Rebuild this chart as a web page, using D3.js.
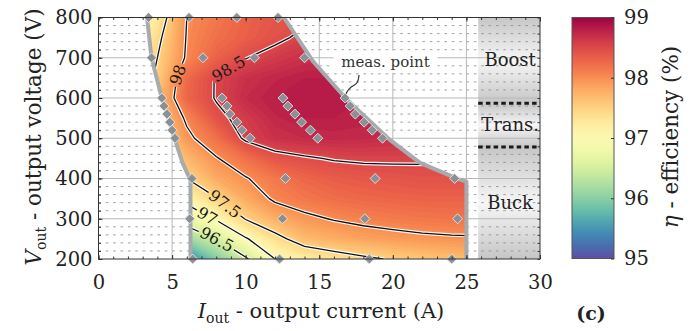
<!DOCTYPE html>
<html>
<head>
<meta charset="utf-8">
<title>efficiency map</title>
<script src="https://cdn.jsdelivr.net/npm/d3@7"></script>
<style>
  body { margin: 0; background: #fff; }
  svg { display: block; font-family: "DejaVu Serif", serif; }
</style>
</head>
<body>
<script>
  // measured efficiency (%) on a current x voltage grid, rows = voltages
  const currents = [2, 4, 6, 8, 10, 12, 14, 16, 18, 20, 22, 24, 26]
  const voltages = [200, 250, 300, 350, 400, 450, 500, 550, 600, 650, 700, 750, 800]
  const eff = [
    [94.8, 95.0, 95.35, 95.95, 96.45, 97.0, 97.2, 97.33, 97.44, 97.53, 97.6, 97.66, 97.7],
    [95.2, 95.6, 96.1, 96.5, 96.96, 97.38, 97.68, 97.78, 97.85, 97.9, 97.94, 97.96, 97.97],
    [95.8, 96.3, 96.75, 97.04, 97.52, 97.78, 97.93, 98.02, 98.08, 98.12, 98.15, 98.17, 98.18],
    [96.3, 96.7, 97.1, 97.48, 97.8, 98.05, 98.15, 98.22, 98.26, 98.28, 98.3, 98.3, 98.3],
    [96.7, 97.1, 97.5, 97.8, 97.98, 98.15, 98.27, 98.34, 98.38, 98.4, 98.43, 98.43, 98.42],
    [97.0, 97.35, 97.7, 97.98, 98.2, 98.4, 98.47, 98.52, 98.54, 98.54, 98.53, 98.5, 98.48],
    [97.2, 97.5, 97.93, 98.2, 98.55, 98.68, 98.72, 98.74, 98.73, 98.7, 98.66, 98.63, 98.6],
    [97.3, 97.6, 98.05, 98.42, 98.6, 98.75, 98.8, 98.8, 98.78, 98.75, 98.72, 98.7, 98.7],
    [97.3, 97.65, 98.27, 98.52, 98.72, 98.8, 98.82, 98.82, 98.8, 98.78, 98.75, 98.75, 98.75],
    [97.2, 97.55, 98.24, 98.52, 98.68, 98.75, 98.8, 98.8, 98.78, 98.75, 98.75, 98.75, 98.75],
    [97.0, 97.5, 98.04, 98.3, 98.49, 98.6, 98.68, 98.72, 98.72, 98.72, 98.72, 98.72, 98.72],
    [96.9, 97.41, 98.02, 98.2, 98.32, 98.44, 98.56, 98.62, 98.65, 98.65, 98.65, 98.65, 98.65],
    [96.9, 97.26, 98.0, 98.15, 98.3, 98.4, 98.45, 98.5, 98.5, 98.5, 98.5, 98.5, 98.5]
  ]
  const levels = [96.5, 97, 97.5, 98, 98.5]

  // measurement points
  const measI = [3.4, 6.15, 9.4, 12.2, 3.6, 7.1, 10.6, 14.0,
    4.3, 4.45, 4.65, 4.85, 5.0, 5.2,
    8.4, 8.73, 8.93, 9.4, 9.75, 10.3,
    12.53, 12.87, 13.35, 13.8, 14.4, 14.9,
    16.75, 17.1, 17.45, 18.05, 18.6, 19.3,
    6.35, 12.7, 18.8, 24.2, 6.2, 12.5, 18.1, 24.4, 6.4, 12.3, 18.4, 24.0]
  const measV = [800, 800, 800, 800, 700, 700, 700, 700,
    600, 580, 560, 540, 520, 500,
    600, 580, 560, 540, 520, 500,
    600, 580, 560, 540, 520, 500,
    600, 580, 560, 540, 520, 500,
    400, 400, 400, 400, 300, 300, 300, 300, 200, 200, 200, 200]

  // operating area outline
  const leftEdgeI = [3.3, 3.6, 4.3, 4.65, 5.0, 5.3, 5.7, 6.25, 6.25]
  const leftEdgeV = [800, 700, 600, 560, 520, 485, 440, 395, 200]
  const rightEdgeI = [12.6, 14.6, 16.9, 19.8, 21.85, 24.5, 25, 25]
  const rightEdgeV = [800, 690, 595, 496, 439, 398, 392, 200]

  const xTicks = [0, 5, 10, 15, 20, 25, 30]
  const yTicks = [200, 300, 400, 500, 600, 700, 800]
  const cTicks = [95, 96, 97, 98, 99]

  const modes = ["Boost", "Trans.", "Buck"]
  const modeTop = [800, 587, 478]
  const modeBottom = [587, 478, 200]
  const modeBandI = [25.8, 30]

  // contour label anchors (approximate, snapped to the line)
  const labelLevel = [98, 98.5, 97.5, 97, 96.5]
  const labelI = [5.47, 8.6, 8.6, 7.43, 8.12]
  const labelV = [657, 688, 339, 309, 252]

  const width = 692
  const height = 331
  const x = d3.scaleLinear([0, 30], [98.5, 540])
  const y = d3.scaleLinear([200, 800], [259, 17.5])
  const color = d3.scaleSequential(d3.interpolateSpectral).domain([99, 95])

  const svg = d3.select("body").append("svg")
    .attr("width", width).attr("height", height)
    .attr("viewBox", [0, 0, width, height])
  const defs = svg.append("defs")

  // region polygon
  const region = leftEdgeI.map((d, i) => [d, leftEdgeV[i]])
    .concat(rightEdgeI.map((d, i) => [d, rightEdgeV[i]]).reverse())
  const lineXY = d3.line().x(d => x(d[0])).y(d => y(d[1]))
  defs.append("clipPath").attr("id", "area")
    .append("path").attr("d", lineXY(region) + "Z")

  // mode band
  const g0 = defs.append("linearGradient").attr("id", "band")
    .attr("x1", 0).attr("y1", 0).attr("x2", 0).attr("y2", 1)
  g0.append("stop").attr("offset", 0).attr("stop-color", "#c6c6c6")
  g0.append("stop").attr("offset", 0.5).attr("stop-color", "#f6f6f6")
  g0.append("stop").attr("offset", 1).attr("stop-color", "#c6c6c6")
  svg.append("g").selectAll("rect")
    .data(modes)
    .join("rect")
    .attr("x", x(modeBandI[0]))
    .attr("width", x(modeBandI[1]) - x(modeBandI[0]))
    .attr("y", (d, i) => y(modeTop[i]))
    .attr("height", (d, i) => y(modeBottom[i]) - y(modeTop[i]))
    .attr("fill", "url(#band)")

  // grid
  const grid = svg.append("g")
  grid.selectAll(".minor")
    .data(d3.range(200, 801, 20).filter(v => v % 100 !== 0))
    .join("line")
    .attr("x1", x(0)).attr("x2", x(30))
    .attr("y1", d => y(d)).attr("y2", d => y(d))
    .attr("stroke", "#8a8a8a").attr("stroke-width", 0.8)
    .attr("stroke-dasharray", "2.6,4.76")
  grid.selectAll(".hmaj")
    .data(yTicks.slice(1, -1))
    .join("line")
    .attr("x1", x(0)).attr("x2", x(30))
    .attr("y1", d => y(d)).attr("y2", d => y(d))
    .attr("stroke", "#b8b8b8")
  grid.selectAll(".vmaj")
    .data(xTicks.slice(1, -1))
    .join("line")
    .attr("y1", y(200)).attr("y2", y(800))
    .attr("x1", d => x(d)).attr("x2", d => x(d))
    .attr("stroke", "#b8b8b8")

  svg.append("g").selectAll("line")
    .data(modeBottom.slice(0, 2))
    .join("line")
    .attr("x1", x(modeBandI[0])).attr("x2", x(modeBandI[1]))
    .attr("y1", d => y(d)).attr("y2", d => y(d))
    .attr("stroke", "#1a1a1a").attr("stroke-width", 3)
    .attr("stroke-dasharray", "4.5,3.2")

  svg.append("g")
    .attr("font-size", 18)
    .attr("text-anchor", "middle")
    .attr("fill", "#222")
    .selectAll("text")
    .data(modes)
    .join("text")
    .attr("x", x((modeBandI[0] + modeBandI[1]) / 2) + 1)
    .attr("y", (d, i) => (y(modeTop[i]) + y(modeBottom[i])) / 2 + 6)
    .text(d => d)

  // efficiency surface
  const n = currents.length, m = voltages.length
  const flat = eff.flat()
  const gx = d3.scaleLinear([0, n - 1], [currents[0], currents[n - 1]])
  const gy = d3.scaleLinear([0, m - 1], [voltages[0], voltages[m - 1]])
  const path = d3.geoPath(d3.geoTransform({
    point(px, py) { this.stream.point(x(gx(px - 0.5)), y(gy(py - 0.5))) }
  }))
  const fillSteps = d3.range(94.6, 99.0, 0.04)
  svg.append("g")
    .attr("clip-path", "url(#area)")
    .selectAll("path")
    .data(d3.contours().size([n, m]).thresholds(fillSteps)(flat))
    .join("path")
    .attr("d", path)
    .attr("fill", d => color(d.value + 0.02))

  // contour lines
  defs.append("mask").attr("id", "gaps")
    .append("rect").attr("width", width).attr("height", height).attr("fill", "white")
  const lines = svg.append("g")
    .attr("clip-path", "url(#area)")
    .append("g")
    .attr("mask", "url(#gaps)")
    .attr("fill", "none")
    .attr("stroke-linejoin", "round")
  const cl = d3.contours().size([n, m]).thresholds(levels)(flat)
  lines.selectAll(".halo").data(cl).join("path")
    .attr("d", path).attr("stroke", "#fff").attr("stroke-width", 3.6).attr("stroke-opacity", 0.9)
  const blk = lines.selectAll(".ln").data(cl).join("path")
    .attr("d", path).attr("stroke", "#111").attr("stroke-width", 1.3)

  const labels = svg.append("g")
    .attr("font-size", 16)
    .attr("fill", "#1a1a1a")
    .attr("text-anchor", "middle")
  labelLevel.forEach((lv, k) => {
    const node = blk.filter(d => d.value === lv).node()
    const total = node.getTotalLength()
    const ax = x(labelI[k]), ay = y(labelV[k])
    let best = 0, bd = Infinity
    for (let L = 0; L < total; L += 1) {
      const p = node.getPointAtLength(L)
      const dd = (p.x - ax) ** 2 + (p.y - ay) ** 2
      if (dd < bd) { bd = dd; best = L }
    }
    const p = node.getPointAtLength(best)
    const a = node.getPointAtLength(Math.max(0, best - 5))
    const b = node.getPointAtLength(Math.min(total, best + 5))
    let ang = Math.atan2(b.y - a.y, b.x - a.x) * 180 / Math.PI
    if (ang > 90) ang -= 180
    if (ang <= -90) ang += 180
    const t = labels.append("text")
      .attr("transform", `translate(${p.x},${p.y}) rotate(${ang})`)
      .attr("dy", "0.35em")
      .text(String(lv))
    const w = t.node().getComputedTextLength()
    d3.select("#gaps").append("rect")
      .attr("transform", `translate(${p.x},${p.y}) rotate(${ang})`)
      .attr("x", -w / 2 - 2).attr("y", -6).attr("width", w + 4).attr("height", 12)
      .attr("fill", "black")
  })

  // outline of measured area
  svg.append("g")
    .attr("fill", "none").attr("stroke", "#a7abae").attr("stroke-width", 4)
    .attr("stroke-linejoin", "round")
    .selectAll("path")
    .data([leftEdgeI.map((d, i) => [d, leftEdgeV[i]]), rightEdgeI.map((d, i) => [d, rightEdgeV[i]])])
    .join("path")
    .attr("d", lineXY)

  // annotation
  const px = x(measI[26]), py = y(measV[26])
  const ann = svg.append("g")
  ann.append("rect")
    .attr("x", x(19.5) - 52).attr("y", y(690) - 11).attr("width", 104).attr("height", 22)
    .attr("fill", "#fff")
  ann.append("text")
    .attr("x", x(19.5)).attr("y", y(690) + 5)
    .attr("text-anchor", "middle").attr("font-size", 15).attr("fill", "#333")
    .text("meas. point")
  ann.append("path")
    .attr("d", d3.line().curve(d3.curveBasis)([[px + 14, py - 23], [px + 13, py - 14], [px + 5, py - 11], [px + 1, py - 5], [px, py]]))
    .attr("fill", "none").attr("stroke", "#333").attr("stroke-width", 1.2)

  // measurement points
  svg.append("g")
    .selectAll("path")
    .data(measI)
    .join("path")
    .attr("transform", (d, i) => `translate(${x(d)},${y(measV[i])}) rotate(45)`)
    .attr("d", d3.symbol(d3.symbolSquare, 50))
    .attr("fill", "#8a9196")
    .attr("stroke", "#e8e8e8").attr("stroke-width", 0.8)

  // axes
  const axStyle = g => g.attr("font-family", "DejaVu Serif, serif").attr("font-size", 19.5)
    .call(g => g.select(".domain").remove())
    .call(g => g.selectAll("line").attr("stroke", "#333"))
    .call(g => g.selectAll("text").attr("fill", "#222"))
  svg.append("g").attr("transform", `translate(0,${y(200)})`)
    .call(d3.axisBottom(x).tickValues(xTicks).tickSize(-4).tickPadding(16)).call(axStyle)
  svg.append("g").attr("transform", `translate(0,${y(200)})`)
    .call(d3.axisBottom(x).tickValues(d3.range(0, 31)).tickSize(-2.5).tickFormat("")).call(axStyle)
  svg.append("g").attr("transform", `translate(0,${y(800)})`)
    .call(d3.axisTop(x).tickValues(d3.range(0, 31)).tickSize(-2.5).tickFormat("")).call(axStyle)
  svg.append("g").attr("transform", `translate(0,${y(800)})`)
    .call(d3.axisTop(x).tickValues(xTicks).tickSize(-4).tickFormat("")).call(axStyle)
  svg.append("g").attr("transform", `translate(${x(0)},0)`)
    .call(d3.axisLeft(y).tickValues(yTicks).tickSize(-4).tickPadding(6)).call(axStyle)
  svg.append("g").attr("transform", `translate(${x(0)},0)`)
    .call(d3.axisLeft(y).tickValues(d3.range(200, 801, 20)).tickSize(-2.5).tickFormat("")).call(axStyle)
  svg.append("g").attr("transform", `translate(${x(30)},0)`)
    .call(d3.axisRight(y).tickValues(d3.range(200, 801, 20)).tickSize(-2.5).tickFormat("")).call(axStyle)
  svg.append("rect")
    .attr("x", x(0)).attr("y", y(800)).attr("width", x(30) - x(0)).attr("height", y(200) - y(800))
    .attr("fill", "none").attr("stroke", "#333")

  // axis titles
  const xt = svg.append("text").attr("x", 321).attr("y", 318)
    .attr("text-anchor", "middle").attr("font-size", 21).attr("fill", "#222")
  xt.append("tspan").attr("font-style", "italic").text("I")
  xt.append("tspan").attr("font-size", 14).attr("dy", 5).text("out")
  xt.append("tspan").attr("dy", -5).text(" - output current (A)")

  const yt = svg.append("text").attr("transform", "translate(41,137) rotate(-90)")
    .attr("text-anchor", "middle").attr("font-size", 21.5).attr("fill", "#222")
  yt.append("tspan").attr("font-style", "italic").text("V")
  yt.append("tspan").attr("font-size", 14).attr("dy", 5).text("out")
  yt.append("tspan").attr("dy", -5).text(" - output voltage (V)")

  svg.append("text").attr("x", 591).attr("y", 320)
    .attr("text-anchor", "middle").attr("font-size", 19).attr("font-weight", "bold").attr("fill", "#222")
    .text("(c)")

  // colour bar
  const cy = d3.scaleLinear([95, 99], [258.5, 17.5])
  const cg = defs.append("linearGradient").attr("id", "cbar")
    .attr("x1", 0).attr("y1", 1).attr("x2", 0).attr("y2", 0)
  cg.selectAll("stop").data(d3.range(0, 1.0001, 0.05)).join("stop")
    .attr("offset", d => d)
    .attr("stop-color", d => color(95 + 4 * d))
  svg.append("rect")
    .attr("x", 572).attr("y", cy(99)).attr("width", 42).attr("height", cy(95) - cy(99))
    .attr("fill", "url(#cbar)").attr("stroke", "#555")
  svg.append("g").attr("transform", "translate(614,0)")
    .call(d3.axisRight(cy).tickValues(cTicks).tickSize(-3).tickPadding(10).tickFormat(d3.format("d"))).call(axStyle)

  const ct = svg.append("text").attr("transform", "translate(678,137) rotate(-90)")
    .attr("text-anchor", "middle").attr("font-size", 21.5).attr("fill", "#222")
  ct.append("tspan").attr("font-style", "italic").text("η")
  ct.append("tspan").text(" - efficiency (%)")
</script>
</body>
</html>
